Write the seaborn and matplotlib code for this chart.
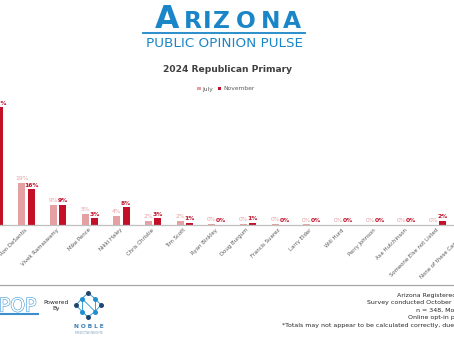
import matplotlib
matplotlib.use("Agg")
import matplotlib.pyplot as plt
import matplotlib.patheffects as pe
from matplotlib.lines import Line2D
from matplotlib.patches import Patch
import pandas as pd
import seaborn as sns

# ---- survey data -------------------------------------------------------
candidates = [
    "Donald Trump", "Ron DeSantis", "Vivek Ramaswamy", "Mike Pence",
    "Nikki Haley", "Chris Christie", "Tim Scott", "Ryan Binkley",
    "Doug Burgum", "Francis Suarez", "Larry Elder", "Will Hurd",
    "Perry Johnson", "Asa Hutchinson", "Someone Else not Listed",
    "None of these Candidates",
]
july = [44, 19, 9, 5, 4, 2, 2, 0.4, 0.4, 0.4, 0.3, 0, 0, 0, 0, 4]
november = [53, 16, 9, 3, 8, 3, 1, 0, 1, 0, 0, 0, 0, 0, 2, 2]
waves = ["July", "November"]
wave_colors = {"July": "#E5A0A3", "November": "#C30F27"}

df = pd.DataFrame({
    "candidate": candidates * 2,
    "pct": july + november,
    "wave": ["July"] * len(candidates) + ["November"] * len(candidates),
})

W, H = 454, 341
fig = plt.figure(figsize=(W / 100, H / 100), dpi=100)
fig.patch.set_facecolor("white")


def fx(px):
    return px / W


def fy(py):
    return 1 - py / H


# ---- bar chart -----------------------------------------------------------
# the plot area is wider than the page, so the outer groups run off the edges
step = 31.67                      # pixels per category
left_px = -5.2 - 0.5 * step
ax = fig.add_axes([fx(left_px), fy(225), len(candidates) * step / W, 125 / H])
sns.barplot(data=df, x="candidate", y="pct", hue="wave", hue_order=waves,
            palette=wave_colors, saturation=1, width=0.59, gap=0.28,
            linewidth=0, legend=False, ax=ax)
ax.set_xlabel("")
ax.set_ylabel("")
ax.set_yticks([])
for s in ["top", "right", "left"]:
    ax.spines[s].set_visible(False)
ax.spines["bottom"].set_color("#BFBFBF")
ax.spines["bottom"].set_linewidth(0.9)
ax.tick_params(axis="x", length=0, pad=3)
ax.set_xticks(range(len(candidates)))
ax.set_xticklabels(candidates, rotation=45, ha="right", va="center",
                   rotation_mode="anchor", fontsize=3.85, color="#595959")
ax.set_facecolor("none")
ax.set_xlim(-0.5, len(candidates) - 0.5)
ax.set_ylim(0, 56.3)

for cont, wave, vals in zip(ax.containers, waves, [july, november]):
    ax.bar_label(cont, labels=[f"{v:.0f}%" for v in vals], padding=1.2,
                 fontsize=4.3, color=wave_colors[wave],
                 fontweight="bold" if wave == "November" else "normal")

# ---- header ----------------------------------------------------------------
blue = "#1A86C8"
letters = [("A", 167.5, 22.7), ("R", 192.5, 16.8), ("I", 207.5, 16.8),
           ("Z", 221.5, 16.8), ("O", 245.5, 16.8), ("N", 271, 16.8),
           ("A", 292, 16.8)]
for ch, x, size in letters:
    fig.text(fx(x), fy(28.3), ch, ha="center", va="baseline",
             fontsize=size, fontweight="bold", color=blue)
fig.add_artist(Line2D([fx(143), fx(305)], [fy(32.5), fy(32.5)],
                      color=blue, lw=1.3))
fig.text(fx(224), fy(43.5), "PUBLIC OPINION PULSE", ha="center",
         va="center", fontsize=9.7, color=blue)

fig.text(fx(227.5), fy(70), "2024 Republican Primary", ha="center",
         va="center", fontsize=6.6, fontweight="bold", color="#404040")

handles = [Patch(facecolor=wave_colors[w], label=w) for w in waves]
fig.legend(handles=handles, loc="center", bbox_to_anchor=(fx(226), fy(89)),
           ncol=2, frameon=False, fontsize=4.3, handlelength=0.55,
           handleheight=0.55, handletextpad=0.3, columnspacing=0.8,
           labelcolor="#595959")

# ---- footer ----------------------------------------------------------------
fig.add_artist(Line2D([0, 1], [fy(285), fy(285)], color="#A6A6A6", lw=0.9))

pop = fig.text(fx(-1), fy(311.5), "POP", ha="left", va="baseline",
               fontsize=13.5, color="white")
pop.set_path_effects([pe.withStroke(linewidth=0.9, foreground="#4FA3DA")])
fig.add_artist(Line2D([0, fx(38)], [fy(313.5), fy(313.5)], color="#3B8FD0",
                      lw=1.5))
fig.text(fx(56), fy(305.5), "Powered\nBy", ha="center", va="center",
         fontsize=4.2, color="#262626", linespacing=1.1)

navy, light = "#22456E", "#1F8FD0"
nodes = {"t": (88, 293), "ul": (82, 298.5), "ur": (95, 298.5),
         "l": (76, 305), "r": (101, 305), "ll": (82, 311.5),
         "lr": (95, 311.5), "b": (88, 317)}
edges = [("t", "ul"), ("t", "ur"), ("ul", "l"), ("ur", "r"), ("l", "ll"),
         ("r", "lr"), ("ll", "b"), ("lr", "b"), ("ul", "ll"), ("ul", "lr"),
         ("ur", "lr")]
for a, b in edges:
    (x1, y1), (x2, y2) = nodes[a], nodes[b]
    fig.add_artist(Line2D([fx(x1), fx(x2)], [fy(y1), fy(y2)],
                          color=light, lw=0.6))
for k, (x, y) in nodes.items():
    c = navy if k in ("t", "b", "l", "r") else light
    fig.add_artist(Line2D([fx(x)], [fy(y)], marker="o", markersize=3.6,
                          color=c, markeredgewidth=0))
fig.text(fx(89), fy(327), "N O B L E", ha="center", va="center",
         fontsize=4.2, fontweight="bold", color="#3A7FB5")
fig.text(fx(89), fy(333), "PREDICTIVE INSIGHTS", ha="center", va="center",
         fontsize=1.8, color="#6C8FB0")

notes = [
    (397, 295, "Arizona Registered Voters"),
    (367, 302.5, "Survey conducted October 25 - 31, 2023"),
    (416, 310.5, "n = 348, MoE +/- 5.3%"),
    (408, 318, "Online opt-in panel"),
    (282, 326, "*Totals may not appear to be calculated correctly, due to rounding."),
]
for x, y, t in notes:
    fig.text(fx(x), fy(y), t, ha="left", va="center", fontsize=4.5,
             color="#262626")

fig.savefig("out.png", dpi=100)
